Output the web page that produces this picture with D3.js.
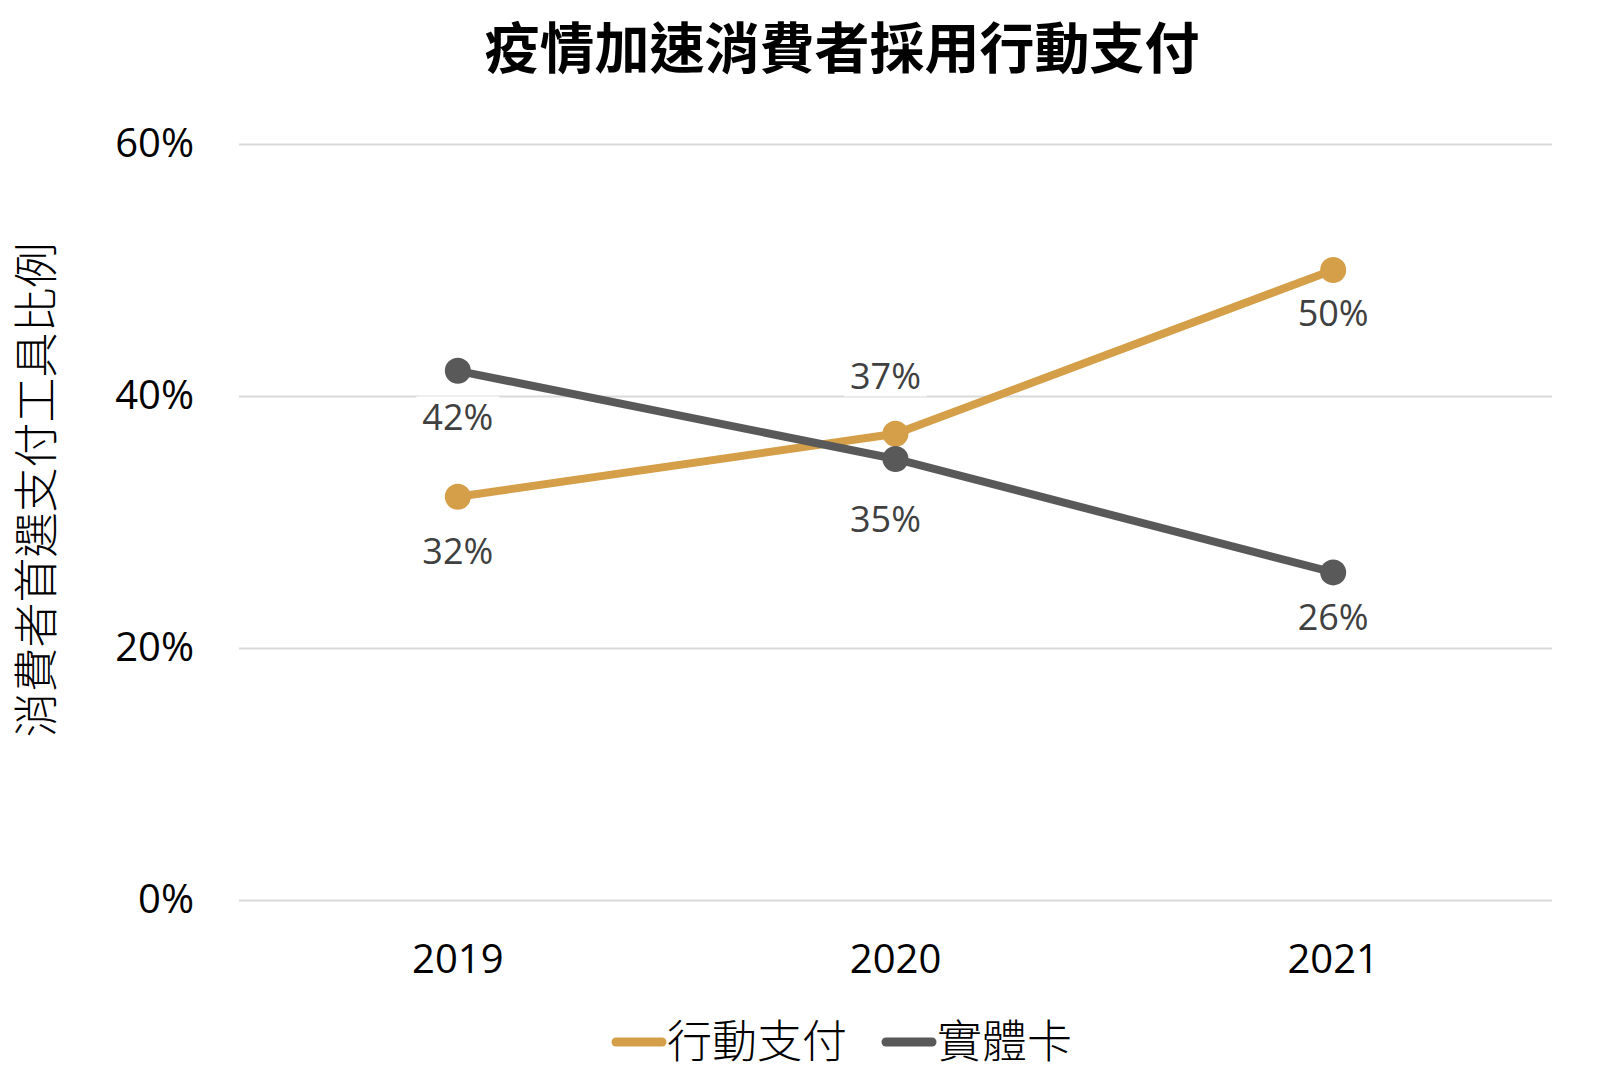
<!DOCTYPE html>
<html>
<head>
<meta charset="utf-8">
<script src="https://cdn.jsdelivr.net/npm/d3@7"></script>
<style>
body { margin: 0; background: #fff; }
text { font-family: "Open Sans", "Noto Sans CJK TC", sans-serif; }
.cjk { font-family: "Noto Sans CJK TC", sans-serif; }
</style>
</head>
<body>
<script>
var W = 1622, H = 1074;

// data
var years = ["2019", "2020", "2021"];
var mobilePay = [32, 37, 50];
var physicalCard = [42, 35, 26];
var seriesNames = ["行動支付", "實體卡"];
var yTicks = [0, 20, 40, 60];

var colors = ["#d49f48", "#595959"];

// label nudges (px from the dot), placed by hand in the original
var labelDy = [[55, -57, 43], [47, 60, 45]];
var labelDx = [0, -10, 0];

var margin = {left: 239, right: W - 1552, top: 144, bottom: H - 900};

var svg = d3.select("body").append("svg")
	.attr("width", W)
	.attr("height", H);

var x = d3.scaleBand()
	.domain(years)
	.range([margin.left, W - margin.right]);

var y = d3.scaleLinear()
	.domain([0, 60])
	.range([H - margin.bottom, margin.top]);

function px(i){ return x(years[i]) + x.bandwidth() / 2; }

// title
svg.append("text")
	.attr("class", "cjk")
	.attr("x", 842)
	.attr("y", 68)
	.attr("text-anchor", "middle")
	.style("font-size", "55px")
	.style("font-weight", "bold")
	.text("疫情加速消費者採用行動支付");

// gridlines
var yAxis = d3.axisLeft(y)
	.tickValues(yTicks)
	.tickSize(-(W - margin.left - margin.right))
	.tickPadding(45)
	.tickFormat(function(d){ return d + "%"; });

var gy = svg.append("g")
	.attr("transform", "translate(" + margin.left + ",0)")
	.call(yAxis);
gy.select(".domain").remove();
gy.selectAll(".tick line").attr("stroke", "#d9d9d9").attr("stroke-width", 2);
gy.selectAll(".tick text")
	.attr("fill", "#000")
	.style("font-size", "40px");

// x axis labels
var xAxis = d3.axisBottom(x).tickSize(0).tickPadding(45);
var gx = svg.append("g")
	.attr("transform", "translate(0," + (H - margin.bottom) + ")")
	.call(xAxis);
gx.select(".domain").remove();
gx.selectAll(".tick text")
	.attr("fill", "#000")
	.style("font-size", "40px");

// y axis title
svg.append("text")
	.attr("class", "cjk")
	.attr("transform", "translate(53,490) rotate(-90)")
	.attr("text-anchor", "middle")
	.style("font-size", "45px")
	.style("font-weight", "300")
	.text("消費者首選支付工具比例");

var allSeries = [mobilePay, physicalCard];

var line = d3.line()
	.x(function(d, i){ return px(i); })
	.y(function(d){ return y(d); });

allSeries.forEach(function(vals, s){
	var g = svg.append("g").attr("class", "series" + s);
	g.append("path")
		.datum(vals)
		.attr("d", line)
		.attr("fill", "none")
		.attr("stroke", colors[s])
		.attr("stroke-width", 8);
	g.selectAll("circle")
		.data(vals)
		.enter().append("circle")
		.attr("cx", function(d, i){ return px(i); })
		.attr("cy", function(d){ return y(d); })
		.attr("r", 13)
		.attr("fill", colors[s]);
});

// data labels with white box behind
allSeries.forEach(function(vals, s){
	vals.forEach(function(v, i){
		var g = svg.append("g");
		var bg = g.append("rect").attr("fill", "#fff");
		var t = g.append("text")
			.attr("x", px(i) + labelDx[i])
			.attr("y", y(v) + labelDy[s][i])
			.attr("dy", "0.35em")
			.attr("text-anchor", "middle")
			.attr("fill", "#404040")
			.style("font-size", "36px")
			.text(v + "%");
		var bb = t.node().getBBox();
		bg.attr("x", bb.x - 6).attr("y", bb.y + 4)
			.attr("width", bb.width + 12).attr("height", bb.height - 8);
	});
});

// legend
var legendX = [612, 882];
seriesNames.forEach(function(name, s){
	var lg = svg.append("g").attr("transform", "translate(" + legendX[s] + ",1042)");
	lg.append("line")
		.attr("x1", 4).attr("x2", 50)
		.attr("stroke", colors[s])
		.attr("stroke-width", 9)
		.attr("stroke-linecap", "round");
	lg.append("text")
		.attr("class", "cjk")
		.attr("x", 55)
		.attr("dy", "0.36em")
		.style("font-size", "45px")
		.style("font-weight", "300")
		.text(name);
});
</script>
</body>
</html>
